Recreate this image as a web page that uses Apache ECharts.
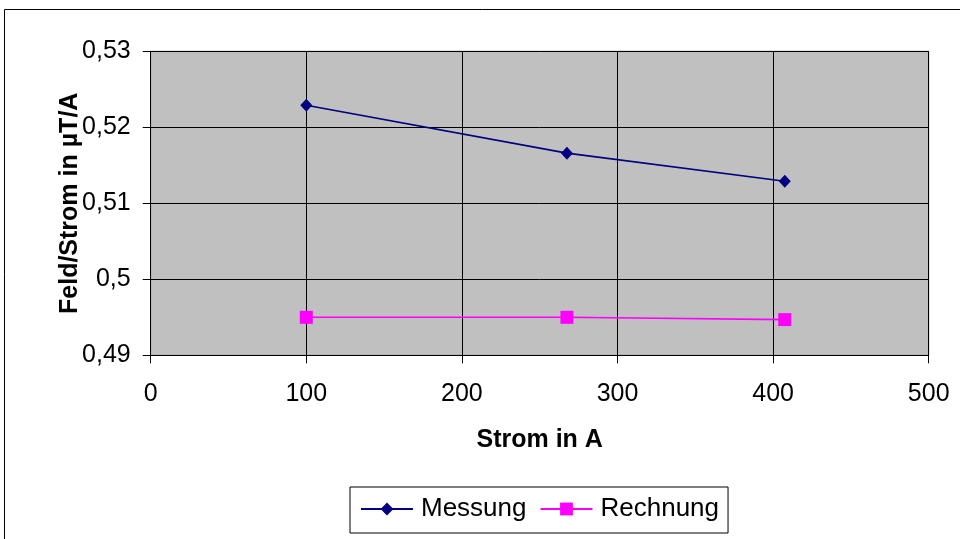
<!DOCTYPE html>
<html>
<head>
<meta charset="utf-8">
<script src="https://cdn.jsdelivr.net/npm/echarts@6/dist/echarts.min.js"></script>
<style>
  html, body { margin: 0; padding: 0; background: #ffffff; }
  #chart { width: 960px; height: 539px; }
</style>
</head>
<body>
<div id="chart"></div>
<script>
// Strom (A) and Feld/Strom (µT/A)
const stromMessung = [100, 267.5, 407.5];
const feldMessung = [0.5229, 0.5166, 0.5129];
const stromRechnung = [100, 267.5, 407.5];
const feldRechnung = [0.4950, 0.4950, 0.4947];
const seriesNames = ['Messung', 'Rechnung'];
const xAxisTitle = 'Strom in A';
const yAxisTitle = 'Feld/Strom in µT/A';

const FONT = '"Liberation Sans", Arial, sans-serif';

const chart = echarts.init(document.getElementById('chart'), null, { renderer: 'canvas' });

chart.setOption({
  animation: false,
  backgroundColor: '#ffffff',
  textStyle: { fontFamily: FONT },
  graphic: [{
    type: 'rect',
    shape: { x: 4.5, y: 9.5, width: 1000, height: 1000 },
    style: { fill: 'none', stroke: '#000000', lineWidth: 1 },
    silent: true
  }],
  grid: {
    left: 150.7, top: 51.3, right: 31.3, bottom: 183.7,
    show: true,
    backgroundColor: '#c0c0c0',
    borderColor: '#808080',
    borderWidth: 1
  },
  xAxis: {
    type: 'value',
    min: 0, max: 500, interval: 100,
    name: xAxisTitle,
    nameLocation: 'middle',
    nameGap: 72,
    nameMoveOverlap: false,
    nameTextStyle: { fontSize: 25, fontWeight: 'bold', color: '#000', fontFamily: FONT },
    axisLine: { show: true, onZero: false, lineStyle: { color: '#000', width: 1 } },
    axisTick: { show: true, inside: false, length: 8, lineStyle: { color: '#000' } },
    axisLabel: { margin: 26, fontSize: 25, color: '#000', fontFamily: FONT },
    splitLine: { show: true, lineStyle: { color: '#000', width: 1 } }
  },
  yAxis: {
    type: 'value',
    min: 0.49, max: 0.53, interval: 0.01,
    name: yAxisTitle,
    nameLocation: 'middle',
    nameGap: 68,
    nameMoveOverlap: false,
    nameTextStyle: { fontSize: 25, fontWeight: 'bold', color: '#000', fontFamily: FONT },
    axisLine: { show: true, lineStyle: { color: '#000', width: 1 } },
    axisTick: { show: true, inside: false, length: 8, lineStyle: { color: '#000' } },
    axisLabel: {
      margin: 20, fontSize: 25, color: '#000', fontFamily: FONT,
      formatter: v => String(Math.round(v * 100) / 100).replace('.', ',')
    },
    splitLine: { show: true, lineStyle: { color: '#000', width: 1 } }
  },
  legend: {
    left: 350, top: 487,
    orient: 'horizontal',
    padding: [9, 9, 11, 10],
    itemGap: 13,
    itemWidth: 52,
    itemHeight: 16,
    borderColor: '#000',
    borderWidth: 1,
    backgroundColor: '#ffffff',
    textStyle: { fontSize: 26, color: '#000', fontFamily: FONT, padding: [0, 0, 0, 3] },
    data: seriesNames
  },
  series: [
    {
      name: seriesNames[0],
      type: 'line',
      data: stromMessung.map((x, i) => [x, feldMessung[i]]),
      symbol: 'diamond',
      symbolSize: [12, 13],
      itemStyle: { color: '#000080' },
      lineStyle: { color: '#000080', width: 1.6 }
    },
    {
      name: seriesNames[1],
      type: 'line',
      data: stromRechnung.map((x, i) => [x, feldRechnung[i]]),
      symbol: 'rect',
      symbolSize: 13,
      itemStyle: { color: '#ff00ff' },
      lineStyle: { color: '#ff00ff', width: 1.6 }
    }
  ]
});
</script>
</body>
</html>
